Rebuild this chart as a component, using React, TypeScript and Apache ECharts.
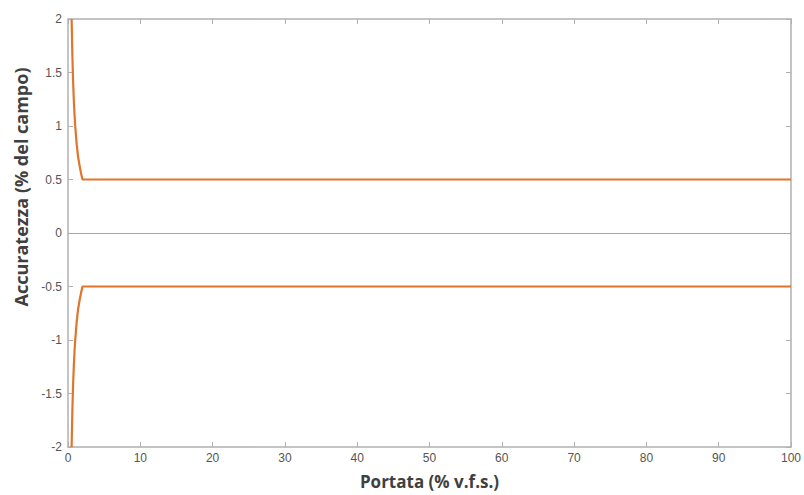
import React, { useEffect, useRef } from "react";
import * as echarts from "echarts";

const flowX = [0.5, 0.6, 0.7, 0.8, 0.9, 1, 1.2, 1.4, 1.6, 1.8, 2, 100];
const upperY = [2, 1.67, 1.43, 1.25, 1.11, 1, 0.83, 0.71, 0.63, 0.56, 0.5, 0.5];
const lowerY = [-2, -1.67, -1.43, -1.25, -1.11, -1, -0.83, -0.71, -0.63, -0.56, -0.5, -0.5];
const xLabel = "Portata (% v.f.s.)";
const yLabel = "Accuratezza (% del campo)";

const axisColor = "#b0b0b0";
const labelColor = "#555555";
const lineColor = "#e0752b";

export default function App() {
  const ref = useRef<HTMLDivElement>(null);
  useEffect(() => {
    const chart = echarts.init(ref.current!, null, { renderer: "svg" });
    const titleFont = "Open Sans, Liberation Sans, sans-serif";
    const tickFont = "Liberation Sans, Arial, sans-serif";
    const baseAxis = {
      axisLine: { show: true, onZero: false, lineStyle: { color: axisColor, width: 1.5 } },
      axisTick: { show: true, inside: true, length: 5, lineStyle: { color: axisColor } },
      splitLine: { show: false },
    };
    chart.setOption({
      animation: false,
      backgroundColor: "#ffffff",
      grid: { left: 68, right: 12, top: 19, bottom: 45 },
      graphic: [
        {
          type: "text",
          x: 21,
          y: 187,
          rotation: Math.PI / 2,
          style: {
            text: yLabel,
            fill: "#404040",
            font: `bold 18px ${titleFont}`,
            align: "center",
            verticalAlign: "middle",
          },
        },
      ],
      xAxis: [
        {
          ...baseAxis,
          type: "value",
          min: 0,
          max: 100,
          interval: 10,
          position: "bottom",
          axisLabel: { color: labelColor, fontSize: 12, fontFamily: tickFont, margin: 5 },
          name: xLabel,
          nameLocation: "middle",
          nameGap: 26,
          nameTextStyle: { color: "#404040", fontSize: 17, fontWeight: "bold", fontFamily: titleFont },
        },
        {
          ...baseAxis,
          type: "value",
          min: 0,
          max: 100,
          interval: 10,
          position: "top",
          axisLabel: { show: false },
        },
      ],
      yAxis: [
        {
          ...baseAxis,
          type: "value",
          min: -2,
          max: 2,
          interval: 0.5,
          position: "left",
          axisLabel: { color: labelColor, fontSize: 12, fontFamily: tickFont, margin: 6 },
        },
        {
          ...baseAxis,
          type: "value",
          min: -2,
          max: 2,
          interval: 0.5,
          position: "right",
          axisLabel: { show: false },
        },
      ],
      series: [
        {
          type: "line",
          data: flowX.map((x, i) => [x, upperY[i]]),
          showSymbol: false,
          smooth: false,
          lineStyle: { color: lineColor, width: 2.2 },
          markLine: {
            silent: true,
            symbol: "none",
            label: { show: false },
            lineStyle: { color: "#a6a6a6", width: 1, type: "solid" },
            data: [{ yAxis: 0 }],
          },
        },
        {
          type: "line",
          data: flowX.map((x, i) => [x, lowerY[i]]),
          showSymbol: false,
          smooth: false,
          lineStyle: { color: lineColor, width: 2.2 },
        },
      ],
    });
    return () => chart.dispose();
  }, []);
  return <div ref={ref} style={{ width: 804, height: 495, position: "absolute", left: 0, top: 0 }} />;
}
